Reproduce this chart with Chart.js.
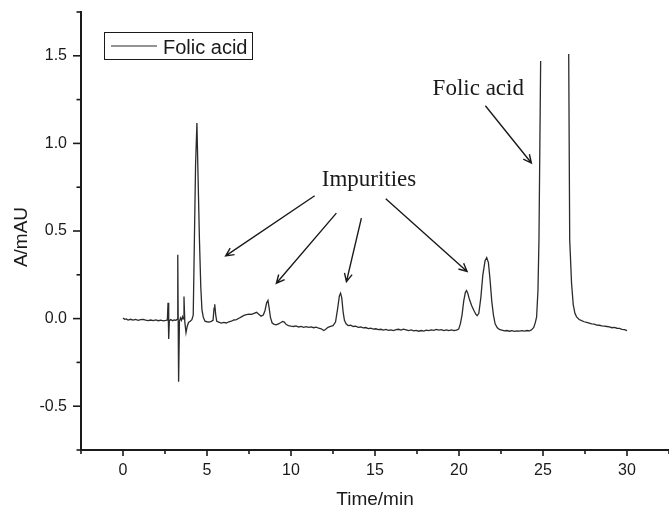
<!DOCTYPE html>
<html>
<head>
    <title>Folic acid chromatogram</title>
    <style>
        body {
            margin: 0;
            padding: 0;
            background: #ffffff;
        }
        #chart-container {
            width: 669px;
            height: 507px;
        }
    </style>
    <script src="https://cdn.jsdelivr.net/npm/chart.js"></script>
</head>
<body>
    <div id="chart-container">
        <canvas id="chart"></canvas>
    </div>
    <script>
        // retention time (min) and absorbance (mAU); null = trace leaves the plot
        const times = [
            0.00, 0.10, 0.20, 0.30, 0.45, 0.60, 0.75, 0.90, 1.05, 1.20,
            1.35, 1.50, 1.65, 1.80, 1.95, 2.10, 2.25, 2.40, 2.55, 2.64,
            2.68, 2.72, 2.76, 2.85, 2.95, 3.05, 3.15, 3.22, 3.26, 3.31,
            3.36, 3.42, 3.48, 3.54, 3.58, 3.63, 3.68, 3.75, 3.82, 3.90,
            4.00, 4.10, 4.18, 4.25, 4.32, 4.40, 4.47, 4.55, 4.63, 4.70,
            4.78, 4.88, 5.00, 5.12, 5.25, 5.36, 5.42, 5.46, 5.52, 5.58,
            5.70, 5.85, 6.00, 6.15, 6.30, 6.45, 6.60, 6.75, 6.90, 7.05,
            7.20, 7.35, 7.50, 7.65, 7.80, 7.95, 8.10, 8.22, 8.35, 8.45,
            8.55, 8.63, 8.70, 8.78, 8.88, 9.00, 9.12, 9.25, 9.38, 9.50,
            9.60, 9.72, 9.85, 10.00, 10.15, 10.30, 10.45, 10.60, 10.75, 10.90,
            11.05, 11.20, 11.35, 11.50, 11.65, 11.80, 11.95, 12.05, 12.20, 12.35,
            12.50, 12.65, 12.78, 12.88, 12.95, 13.02, 13.10, 13.18, 13.28, 13.40,
            13.55, 13.70, 13.85, 14.00, 14.15, 14.30, 14.45, 14.60, 14.75, 14.90,
            15.05, 15.20, 15.35, 15.50, 15.65, 15.80, 15.95, 16.10, 16.25, 16.40,
            16.55, 16.70, 16.85, 17.00, 17.15, 17.30, 17.45, 17.60, 17.75, 17.90,
            18.05, 18.20, 18.35, 18.50, 18.65, 18.80, 18.95, 19.10, 19.25, 19.40,
            19.55, 19.70, 19.85, 19.98, 20.08, 20.18, 20.28, 20.38, 20.45, 20.52,
            20.62, 20.75, 20.88, 21.00, 21.08, 21.18, 21.30, 21.42, 21.55, 21.65,
            21.75, 21.85, 21.95, 22.05, 22.15, 22.28, 22.40, 22.55, 22.70, 22.85,
            23.00, 23.15, 23.30, 23.45, 23.60, 23.75, 23.90, 24.05, 24.20, 24.32,
            24.45, 24.55, 24.62, 24.70, 24.76, 24.86, 25.70, 26.53, 26.59, 26.70,
            26.80, 26.90, 27.00, 27.15, 27.30, 27.45, 27.60, 27.75, 27.90, 28.05,
            28.20, 28.35, 28.50, 28.65, 28.80, 28.95, 29.10, 29.25, 29.40, 29.55,
            29.70, 29.85, 30.00
        ];
        const absorbance = [
            0.004, -0.004, -0.002, -0.008, -0.004, -0.009, -0.005, -0.010, -0.006, -0.004,
            -0.009, -0.012, -0.008, -0.011, -0.007, -0.012, -0.009, -0.013, -0.010, -0.008,
            0.090, -0.117, -0.012, -0.006, -0.012, -0.008, -0.010, -0.004, 0.364, -0.360,
            -0.015, 0.004, -0.010, 0.010, -0.002, 0.126, -0.020, -0.080, -0.045, -0.022,
            -0.015, -0.006, 0.020, 0.450, 0.880, 1.117, 0.800, 0.450, 0.180, 0.050,
            0.008, -0.015, -0.018, -0.020, -0.016, -0.010, 0.060, 0.082, 0.020, -0.015,
            -0.020, -0.026, -0.022, -0.025, -0.018, -0.015, -0.008, -0.006, 0.002, 0.010,
            0.018, 0.022, 0.026, 0.024, 0.030, 0.036, 0.024, 0.014, 0.020, 0.045,
            0.090, 0.104, 0.060, 0.005, -0.025, -0.033, -0.036, -0.030, -0.024, -0.016,
            -0.020, -0.034, -0.040, -0.043, -0.045, -0.042, -0.048, -0.045, -0.050, -0.046,
            -0.050, -0.047, -0.052, -0.049, -0.055, -0.058, -0.068, -0.062, -0.050, -0.045,
            -0.040, -0.020, 0.060, 0.130, 0.145, 0.120, 0.040, -0.010, -0.030, -0.040,
            -0.038, -0.045, -0.043, -0.050, -0.048, -0.053, -0.051, -0.057, -0.055, -0.060,
            -0.058, -0.063, -0.061, -0.066, -0.062, -0.067, -0.064, -0.068, -0.063, -0.061,
            -0.066, -0.060, -0.064, -0.068, -0.065, -0.070, -0.067, -0.072, -0.068, -0.071,
            -0.066, -0.069, -0.064, -0.067, -0.062, -0.066, -0.063, -0.068, -0.064, -0.069,
            -0.065, -0.068, -0.066, -0.060, -0.030, 0.020, 0.100, 0.150, 0.160, 0.145,
            0.110, 0.075, 0.048, 0.025, 0.016, 0.030, 0.120, 0.250, 0.330, 0.348,
            0.320, 0.220, 0.100, 0.020, -0.030, -0.052, -0.062, -0.066, -0.070, -0.068,
            -0.072, -0.069, -0.073, -0.070, -0.072, -0.069, -0.071, -0.068, -0.070, -0.064,
            -0.050, -0.020, 0.010, 0.160, 0.450, 1.470, null, 1.510, 0.450, 0.200,
            0.080, 0.030, 0.010, -0.005, -0.012, -0.018, -0.022, -0.026, -0.030, -0.032,
            -0.037, -0.038, -0.041, -0.043, -0.045, -0.047, -0.052, -0.050, -0.055, -0.056,
            -0.061, -0.063, -0.068
        ];
        const xTickLabels = [0, 5, 10, 15, 20, 25, 30];
        const yTickLabels = [-0.5, 0.0, 0.5, 1.0, 1.5];

        // arrows in data units: [fromT, fromA, toT, toA]
        const impurityArrows = [
            [11.41, 0.701, 6.11, 0.358],
            [12.70, 0.602, 9.13, 0.202],
            [14.19, 0.574, 13.30, 0.211],
            [15.64, 0.684, 20.48, 0.269]
        ];
        const folicArrow = [21.57, 1.215, 24.31, 0.888];

        const sans = '"Liberation Sans", Arial, sans-serif';
        const serif = '"Liberation Serif", "Times New Roman", serif';
        const ink = '#1a1a1a';

        function isLabelled(list, v) {
            return list.some(l => Math.abs(l - v) < 1e-6);
        }

        // chart area is pinned, so drop the label overhang padding chart.js adds
        function pinScale(s, size) {
            if (s.isHorizontal()) s.height = size; else s.width = size;
            s.paddingLeft = 0;
            s.paddingRight = 0;
            s.paddingTop = 0;
            s.paddingBottom = 0;
        }

        function arrow(ctx, x1, y1, x2, y2) {
            const ang = Math.atan2(y2 - y1, x2 - x1);
            const len = 9, spread = 0.45;
            ctx.beginPath();
            ctx.moveTo(x1, y1);
            ctx.lineTo(x2, y2);
            ctx.moveTo(x2 - len * Math.cos(ang - spread), y2 - len * Math.sin(ang - spread));
            ctx.lineTo(x2, y2);
            ctx.lineTo(x2 - len * Math.cos(ang + spread), y2 - len * Math.sin(ang + spread));
            ctx.stroke();
        }

        const decorPlugin = {
            id: 'decor',
            afterDraw(chart) {
                const ctx = chart.ctx;
                const x = chart.scales.x, y = chart.scales.y;
                const area = chart.chartArea;
                ctx.save();
                ctx.strokeStyle = ink;
                ctx.lineWidth = 1.6;

                // tick marks, outward
                x.ticks.forEach(t => {
                    const px = x.getPixelForValue(t.value);
                    const l = isLabelled(xTickLabels, t.value) ? 6 : 4;
                    ctx.beginPath();
                    ctx.moveTo(px, area.bottom);
                    ctx.lineTo(px, area.bottom + l);
                    ctx.stroke();
                });
                y.ticks.forEach(t => {
                    const py = y.getPixelForValue(t.value);
                    const l = isLabelled(yTickLabels, t.value) ? 8 : 4.5;
                    ctx.beginPath();
                    ctx.moveTo(area.left, py);
                    ctx.lineTo(area.left - l, py);
                    ctx.stroke();
                });

                // axis titles
                ctx.fillStyle = ink;
                ctx.font = '19px ' + sans;
                ctx.textAlign = 'center';
                ctx.textBaseline = 'alphabetic';
                ctx.fillText('Time/min', (area.left + area.right) / 2, 505);
                ctx.save();
                ctx.translate(27, 237);
                ctx.rotate(-Math.PI / 2);
                ctx.fillText('A/mAU', 0, 0);
                ctx.restore();

                // legend box
                const ds = chart.data.datasets[0];
                ctx.lineWidth = 1;
                ctx.strokeRect(104.5, 32.5, 148, 27);
                ctx.strokeStyle = ds.borderColor;
                ctx.lineWidth = 1.2;
                ctx.beginPath();
                ctx.moveTo(111, 46);
                ctx.lineTo(157, 46);
                ctx.stroke();
                ctx.textAlign = 'left';
                ctx.font = '20px ' + sans;
                ctx.fillText(ds.label, 163, 54);

                // annotations
                ctx.strokeStyle = ink;
                ctx.lineWidth = 1.4;
                impurityArrows.concat([folicArrow]).forEach(a => {
                    arrow(ctx, x.getPixelForValue(a[0]), y.getPixelForValue(a[1]),
                        x.getPixelForValue(a[2]), y.getPixelForValue(a[3]));
                });
                ctx.font = '23px ' + serif;
                ctx.fillText('Impurities', x.getPixelForValue(11.83), y.getPixelForValue(0.758));
                ctx.fillText('Folic acid', x.getPixelForValue(18.43), y.getPixelForValue(1.278));
                ctx.restore();
            }
        };

        const points = times.map((t, i) => ({ x: t, y: absorbance[i] }));

        new Chart(document.getElementById('chart').getContext('2d'), {
            type: 'line',
            data: {
                datasets: [{
                    label: 'Folic acid',
                    data: points,
                    borderColor: '#2b2b2b',
                    borderWidth: 1.3,
                    pointRadius: 0,
                    tension: 0,
                    spanGaps: false,
                    fill: false
                }]
            },
            options: {
                responsive: true,
                maintainAspectRatio: false,
                animation: false,
                layout: {
                    padding: { top: 12, left: 0, right: 0, bottom: 0 }
                },
                plugins: {
                    legend: { display: false },
                    tooltip: { enabled: false }
                },
                scales: {
                    x: {
                        type: 'linear',
                        min: -2.5,
                        max: 32.5,
                        afterFit: s => pinScale(s, 57),
                        grid: { display: false, drawTicks: false },
                        border: { display: true, color: ink, width: 2 },
                        ticks: {
                            stepSize: 2.5,
                            autoSkip: false,
                            maxRotation: 0,
                            padding: 11,
                            color: ink,
                            font: { family: sans, size: 16 },
                            callback: v => isLabelled(xTickLabels, v) ? String(Math.round(v)) : ''
                        }
                    },
                    y: {
                        type: 'linear',
                        min: -0.75,
                        max: 1.75,
                        afterFit: s => pinScale(s, 81),
                        grid: { display: false, drawTicks: false },
                        border: { display: true, color: ink, width: 2 },
                        ticks: {
                            stepSize: 0.25,
                            autoSkip: false,
                            padding: 14,
                            color: ink,
                            font: { family: sans, size: 16 },
                            callback: v => isLabelled(yTickLabels, v) ? v.toFixed(1) : ''
                        }
                    }
                }
            },
            plugins: [decorPlugin]
        });
    </script>
</body>
</html>
